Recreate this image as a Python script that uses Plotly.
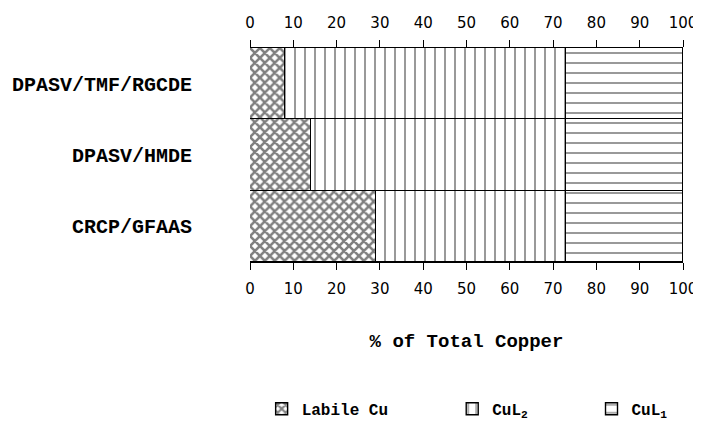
import plotly.graph_objects as go

methods = ["DPASV/TMF/RGCDE", "DPASV/HMDE", "CRCP/GFAAS"]
labile_cu = [8, 14, 29]
cul2 = [65, 59, 44]
cul1 = [27, 27, 27]

mono = "Liberation Mono"
sans = "DejaVu Sans"

fig = go.Figure()

# name, values, pattern shape, pattern size, solidity, legend id
series = [
    ("Labile Cu", labile_cu, "x", 7, 0.6, "legend"),
    ("CuL<sub>2</sub>", cul2, "|", 10, 0.16, "legend2"),
    ("CuL<sub>1</sub>", cul1, "-", 10, 0.16, "legend3"),
]
for name, vals, shape, size, solid, leg in series:
    fig.add_trace(
        go.Bar(
            y=methods,
            x=vals,
            name=name,
            orientation="h",
            legend=leg,
            marker=dict(
                color="white",
                line=dict(color="black", width=1.4),
                pattern=dict(shape=shape, size=size, solidity=solid,
                             fgcolor="black", bgcolor="white"),
            ),
        )
    )

# invisible trace so the top axis gets drawn
fig.add_trace(
    go.Scatter(x=labile_cu, y=methods, xaxis="x2", mode="none",
               showlegend=False, hoverinfo="skip")
)

axis_common = dict(
    range=[0, 100],
    tickvals=list(range(0, 101, 10)),
    ticks="outside",
    ticklen=7,
    tickwidth=1.3,
    tickcolor="black",
    showline=True,
    linecolor="black",
    linewidth=1.3,
    showgrid=False,
    zeroline=False,
    automargin=False,
    ticklabeloverflow="allow",
    tickfont=dict(family=sans, size=15, color="black"),
)


def legend_at(x):
    return dict(
        orientation="h",
        xref="container",
        yref="container",
        x=x,
        xanchor="left",
        y=0.027,
        yanchor="middle",
        font=dict(family=mono, size=16, color="black", weight="bold"),
    )


# page body has an 8px margin all round; keep the figure small enough
# that the window gets no scrollbar
fig.update_layout(
    width=693,
    height=412,
    margin=dict(l=242, r=18, t=40, b=158),
    paper_bgcolor="white",
    plot_bgcolor="white",
    barmode="stack",
    bargap=0,
    xaxis=dict(
        **axis_common,
        ticklabelstandoff=6,
        title=dict(text="% of Total Copper",
                   font=dict(family=mono, size=19, color="black", weight="bold"),
                   standoff=36),
    ),
    xaxis2=dict(**axis_common, ticklabelstandoff=6,
                overlaying="x", side="top", matches="x"),
    yaxis=dict(
        autorange="reversed",
        showline=False,
        ticks="",
        automargin=False,
        ticklabelstandoff=57,
        tickfont=dict(family=mono, size=20, color="black", weight="bold"),
    ),
    legend=legend_at(0.366),
    legend2=legend_at(0.641),
    legend3=legend_at(0.842),
)

fig.write_html(
    "out.html",
    post_script="document.documentElement.style.overflow='hidden';"
                "document.body.style.overflow='hidden';",
)
